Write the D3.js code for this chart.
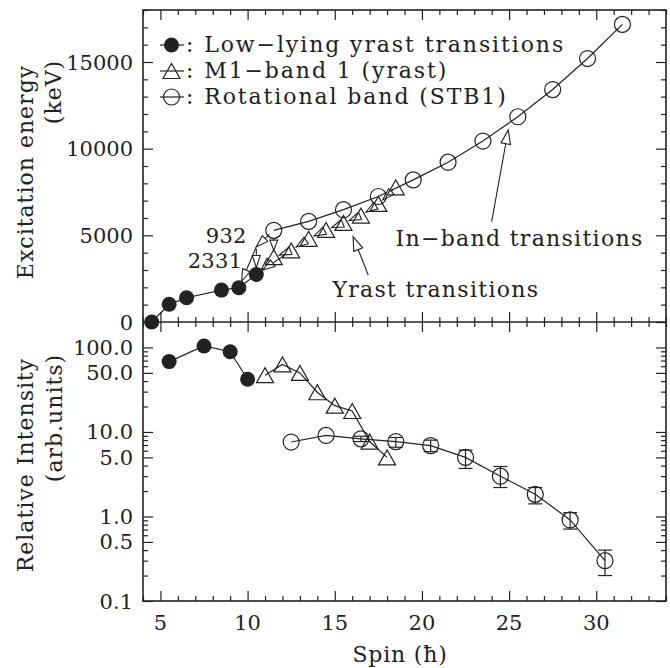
<!DOCTYPE html>
<html>
<head>
<meta charset="utf-8">
<script src="https://cdn.jsdelivr.net/npm/d3@7"></script>
<style>
  html, body { margin: 0; padding: 0; background: #fff; }
  svg text { font-family: "DejaVu Serif", "Liberation Serif", serif; fill: #222; }
</style>
</head>
<body>
<svg id="chart" width="670" height="668"></svg>
<script>
// ---------------- DATA ----------------
// Top panel: excitation energy (keV) vs spin
const spinLow = [4.5, 5.5, 6.5, 8.5, 9.5, 10.5];
const energyLow = [0, 1020, 1400, 1840, 1980, 2740];

const spinM1 = [11.5, 12.5, 13.5, 14.5, 15.5, 16.5, 17.5, 18.5];
const energyM1 = [3740, 4130, 4800, 5310, 5715, 6140, 6815, 7770];

const spinRot = [11.5, 13.5, 15.5, 17.5, 19.5, 21.5, 23.5, 25.5, 27.5, 29.5, 31.5];
const energyRot = [5290, 5805, 6480, 7240, 8200, 9220, 10440, 11840, 13410, 15200, 17170];

// intermediate level fed by the 932 keV and depopulated by the 2331 keV line
const spinMid = [10.5];
const energyMid = [4340];

// Bottom panel: relative intensity vs spin
const intSpinLow = [5.5, 7.5, 9, 10];
const intLow = [68, 104, 89, 42];

const intSpinM1 = [11, 12, 13, 14, 15, 16, 17, 18];
const intM1 = [47, 63, 50, 29.5, 20.5, 17.7, 7.7, 5.0];

const intSpinRot = [12.5, 14.5, 16.5, 18.5, 20.5, 22.5, 24.5, 26.5, 28.5, 30.5];
const intRot = [7.6, 9.1, 8.3, 7.7, 6.9, 5.0, 3.0, 1.83, 0.91, 0.30];
const intRotLo = [null, null, 7.7, 6.6, 5.85, 3.7, 2.2, 1.41, 0.71, 0.20];
const intRotHi = [null, null, 8.9, 8.6, 8.0, 6.1, 3.9, 2.2, 1.11, 0.40];

// Axis ticks
const xTicks = [5, 10, 15, 20, 25, 30];
const eTicks = [0, 5000, 10000, 15000];
const iTicks = [0.1, 0.5, 1, 5, 10, 50, 100];
const iTickLabels = ["0.1", "0.5", "1.0", "5.0", "10.0", "50.0", "100.0"];

// Legend
const legendLabels = [": Low\u2212lying yrast transitions", ": M1\u2212band 1 (yrast)", ": Rotational band (STB1)"];
const legendSymbols = ["filled", "triangle", "circle"];

// Annotations (data coordinates)
const annText = [
  {t: "932", spin: 9.95, e: 4540, anchor: "end", ls: 0.3},
  {t: "2331", spin: 9.7, e: 3100, anchor: "end", ls: 0.3},
  {t: "Yrast transitions", spin: 20.8, e: 1440, anchor: "middle", ls: 1.3},
  {t: "In\u2212band transitions", spin: 25.6, e: 4390, anchor: "middle", ls: 1.3}
];
const annArrows = [
  {s0: 16.92, e0: 2710, s1: 16.05, e1: 4930},
  {s0: 24.0, e0: 5790, s1: 24.95, e1: 11080}
];

// ---------------- LAYOUT ----------------
const svg = d3.select("#chart");
const L = 143, R = 666, T = 10, MID = 322, B = 601;
const ink = "#222";

const x = d3.scaleLinear().domain([4, 34]).range([L, R]);
const yE = d3.scaleLinear().domain([0, 18000]).range([MID, T]);
const yI = d3.scaleLog().domain([0.1, 200]).range([B, MID]);

// ---------------- AXES ----------------
function styleAxis(g) {
  g.select(".domain").remove();
  g.selectAll("line").attr("stroke", ink).attr("stroke-width", 1.2);
}
const xMinor = d3.range(4, 35, 1).filter(v => !xTicks.includes(v));

// x ticks: top edge (down), divider (up and down), bottom edge (up)
function xTickRow(yy, len) {
  svg.append("g").attr("transform", `translate(0,${yy})`)
    .call(d3.axisBottom(x).tickValues(xMinor).tickSize(len / 2).tickFormat("")).call(styleAxis);
  svg.append("g").attr("transform", `translate(0,${yy})`)
    .call(d3.axisBottom(x).tickValues(xTicks).tickSize(len).tickFormat("")).call(styleAxis);
}
xTickRow(T, 10);
xTickRow(MID, -10);
xTickRow(MID, 10);
xTickRow(B, -10);
svg.append("g").selectAll("text").data(xTicks).join("text")
  .attr("x", d => x(d)).attr("y", 630).attr("text-anchor", "middle")
  .attr("font-size", 21).text(d => d);

// top panel y ticks
const eMinor = d3.range(0, 18001, 1000).filter(v => v % 5000 !== 0);
[[L, d3.axisLeft], [R, d3.axisRight]].forEach(([xx, ax]) => {
  svg.append("g").attr("transform", `translate(${xx},0)`)
    .call(ax(yE).tickValues(eMinor).tickSize(-5).tickFormat("")).call(styleAxis);
  svg.append("g").attr("transform", `translate(${xx},0)`)
    .call(ax(yE).tickValues(eTicks).tickSize(-10).tickFormat("")).call(styleAxis);
});
svg.append("g").selectAll("text").data(eTicks).join("text")
  .attr("x", 133).attr("y", d => yE(d) + 7.5).attr("text-anchor", "end")
  .attr("font-size", 21).text(d => d);

// bottom panel log ticks
const iMinor = [];
[0.1, 1, 10, 100].forEach(dec => { for (let k = 2; k <= 9; k++) { const v = dec * k; if (k !== 5 && v <= 200) iMinor.push(v); } });
[[L, d3.axisLeft], [R, d3.axisRight]].forEach(([xx, ax]) => {
  svg.append("g").attr("transform", `translate(${xx},0)`)
    .call(ax(yI).tickValues(iMinor).tickSize(-5).tickFormat("")).call(styleAxis);
  svg.append("g").attr("transform", `translate(${xx},0)`)
    .call(ax(yI).tickValues(iTicks).tickSize(-10).tickFormat("")).call(styleAxis);
});
svg.append("g").selectAll("text").data(iTicks).join("text")
  .attr("x", 133).attr("y", d => yI(d) + 7.5).attr("text-anchor", "end")
  .attr("font-size", 21).text((d, i) => iTickLabels[i]);

// frames
svg.append("rect").attr("x", L).attr("y", T).attr("width", R - L).attr("height", B - T)
  .attr("fill", "none").attr("stroke", ink).attr("stroke-width", 1.6);
svg.append("line").attr("x1", L).attr("x2", R).attr("y1", MID).attr("y2", MID)
  .attr("stroke", ink).attr("stroke-width", 1.6);

// axis titles
function vtext(txt, cx, cy) {
  svg.append("text").attr("transform", `translate(${cx},${cy}) rotate(-90)`)
    .attr("text-anchor", "middle").attr("dominant-baseline", "central")
    .attr("font-size", 22).attr("letter-spacing", 1.0).text(txt);
}
vtext("Excitation energy", 25, 172);
vtext("(keV)", 53, 92);
vtext("Relative Intensity", 25, 465);
vtext("(arb.units)", 54, 418);
svg.append("text").attr("x", 400).attr("y", 662).attr("text-anchor", "middle")
  .attr("font-size", 22).attr("letter-spacing", 0.8).text("Spin (\u0127)");

// ---------------- MARKS ----------------
const R_C = 8;
function drawSymbol(g, type, cx, cy) {
  if (type === "filled") {
    g.append("circle").attr("cx", cx).attr("cy", cy).attr("r", 7.5).attr("fill", ink);
  } else if (type === "circle") {
    g.append("circle").attr("cx", cx).attr("cy", cy).attr("r", R_C)
      .attr("fill", "none").attr("stroke", ink).attr("stroke-width", 1.2);
  } else {
    const h = 8.5;
    g.append("path").attr("d", `M${cx - h},${cy + h * 0.88}L${cx},${cy - h * 0.88}L${cx + h},${cy + h * 0.88}Z`)
      .attr("fill", "none").attr("stroke", ink).attr("stroke-width", 1.2);
  }
}
function drawLine(xs, ys, xsc, ysc) {
  const pts = xs.map((v, i) => [xsc(v), ysc(ys[i])]);
  svg.append("path").attr("d", d3.line()(pts)).attr("fill", "none")
    .attr("stroke", ink).attr("stroke-width", 1.2);
}
function arrow(x1, y1, x2, y2, cut0, cut1, hl = 12, hw = 3.8) {
  const dx = x2 - x1, dy = y2 - y1, len = Math.hypot(dx, dy);
  const ux = dx / len, uy = dy / len;
  const sx = x1 + ux * cut0, sy = y1 + uy * cut0;
  const ex = x2 - ux * cut1, ey = y2 - uy * cut1;
  svg.append("line").attr("x1", sx).attr("y1", sy).attr("x2", ex - ux * hl).attr("y2", ey - uy * hl)
    .attr("stroke", ink).attr("stroke-width", 1.1);
  const bx = ex - ux * hl, by = ey - uy * hl;
  svg.append("path").attr("d", `M${ex},${ey}L${bx - uy * hw},${by + ux * hw}L${bx + uy * hw},${by - ux * hw}Z`)
    .attr("fill", "#fff").attr("stroke", ink).attr("stroke-width", 1.1);
}

// top panel lines
drawLine(spinLow, energyLow, x, yE);
drawLine(spinRot, energyRot, x, yE);

// yrast M1 transitions (arrows going down the band)
for (let i = spinM1.length - 1; i > 0; i--) {
  arrow(x(spinM1[i]), yE(energyM1[i]), x(spinM1[i - 1]), yE(energyM1[i - 1]), 4, 6, 12, 4);
}
// band-head decays
const P = [x(spinMid[0]), yE(energyMid[0])];
const C0 = [x(spinRot[0]), yE(energyRot[0])];
const T0 = [x(spinM1[0]), yE(energyM1[0])];
const T1 = [x(spinM1[1]), yE(energyM1[1])];
const F9 = [x(spinLow[4]), yE(energyLow[4])];
const F10 = [x(spinLow[5]), yE(energyLow[5])];
arrow(C0[0], C0[1], P[0], P[1], 6, 0, 12, 4);
arrow(P[0], P[1], F9[0], F9[1], 0, 7, 12, 4);
arrow(C0[0], C0[1], T0[0], T0[1] - 7, 8, 0, 10, 4);
arrow(T0[0], T0[1], F10[0], F10[1], 5, 7, 12, 4);
arrow(T1[0], T1[1], F10[0], F10[1], 8, 8, 12, 4);
arrow(P[0], P[1], F10[0], F10[1], 2, 7, 12, 4);

// markers top
const gTop = svg.append("g");
spinLow.forEach((s, i) => drawSymbol(gTop, "filled", x(s), yE(energyLow[i])));
spinM1.forEach((s, i) => drawSymbol(gTop, "triangle", x(s), yE(energyM1[i])));
spinRot.forEach((s, i) => drawSymbol(gTop, "circle", x(s), yE(energyRot[i])));

// annotation arrows and texts
annArrows.forEach(a => arrow(x(a.s0), yE(a.e0), x(a.s1), yE(a.e1), 0, 0, 14, 4.8));
annText.forEach(a => {
  svg.append("text").attr("x", x(a.spin)).attr("y", yE(a.e)).attr("text-anchor", a.anchor)
    .attr("font-size", a.t.length > 5 ? 22 : 21).attr("letter-spacing", a.ls).text(a.t);
});

// legend
legendLabels.forEach((lab, i) => {
  const ly = 45 + i * 26;
  svg.append("line").attr("x1", 160).attr("x2", 184).attr("y1", ly).attr("y2", ly)
    .attr("stroke", ink).attr("stroke-width", 1.2);
  drawSymbol(svg, legendSymbols[i], 171.5, ly);
  svg.append("text").attr("x", 186).attr("y", ly + 7).attr("font-size", 22)
    .attr("letter-spacing", 1.9).text(lab);
});

// bottom panel
drawLine(intSpinLow, intLow, x, yI);
drawLine(intSpinM1, intM1, x, yI);
drawLine(intSpinRot, intRot, x, yI);
const gBot = svg.append("g");
intSpinRot.forEach((s, i) => {
  if (intRotLo[i] == null) return;
  const cx = x(s);
  gBot.append("line").attr("x1", cx).attr("x2", cx).attr("y1", yI(intRotLo[i])).attr("y2", yI(intRotHi[i]))
    .attr("stroke", ink).attr("stroke-width", 1.2);
  [intRotLo[i], intRotHi[i]].forEach(v => gBot.append("line").attr("x1", cx - 7).attr("x2", cx + 7)
    .attr("y1", yI(v)).attr("y2", yI(v)).attr("stroke", ink).attr("stroke-width", 1.2));
});
intSpinLow.forEach((s, i) => drawSymbol(gBot, "filled", x(s), yI(intLow[i])));
intSpinM1.forEach((s, i) => drawSymbol(gBot, "triangle", x(s), yI(intM1[i])));
intSpinRot.forEach((s, i) => drawSymbol(gBot, "circle", x(s), yI(intRot[i])));
</script>
</body>
</html>
